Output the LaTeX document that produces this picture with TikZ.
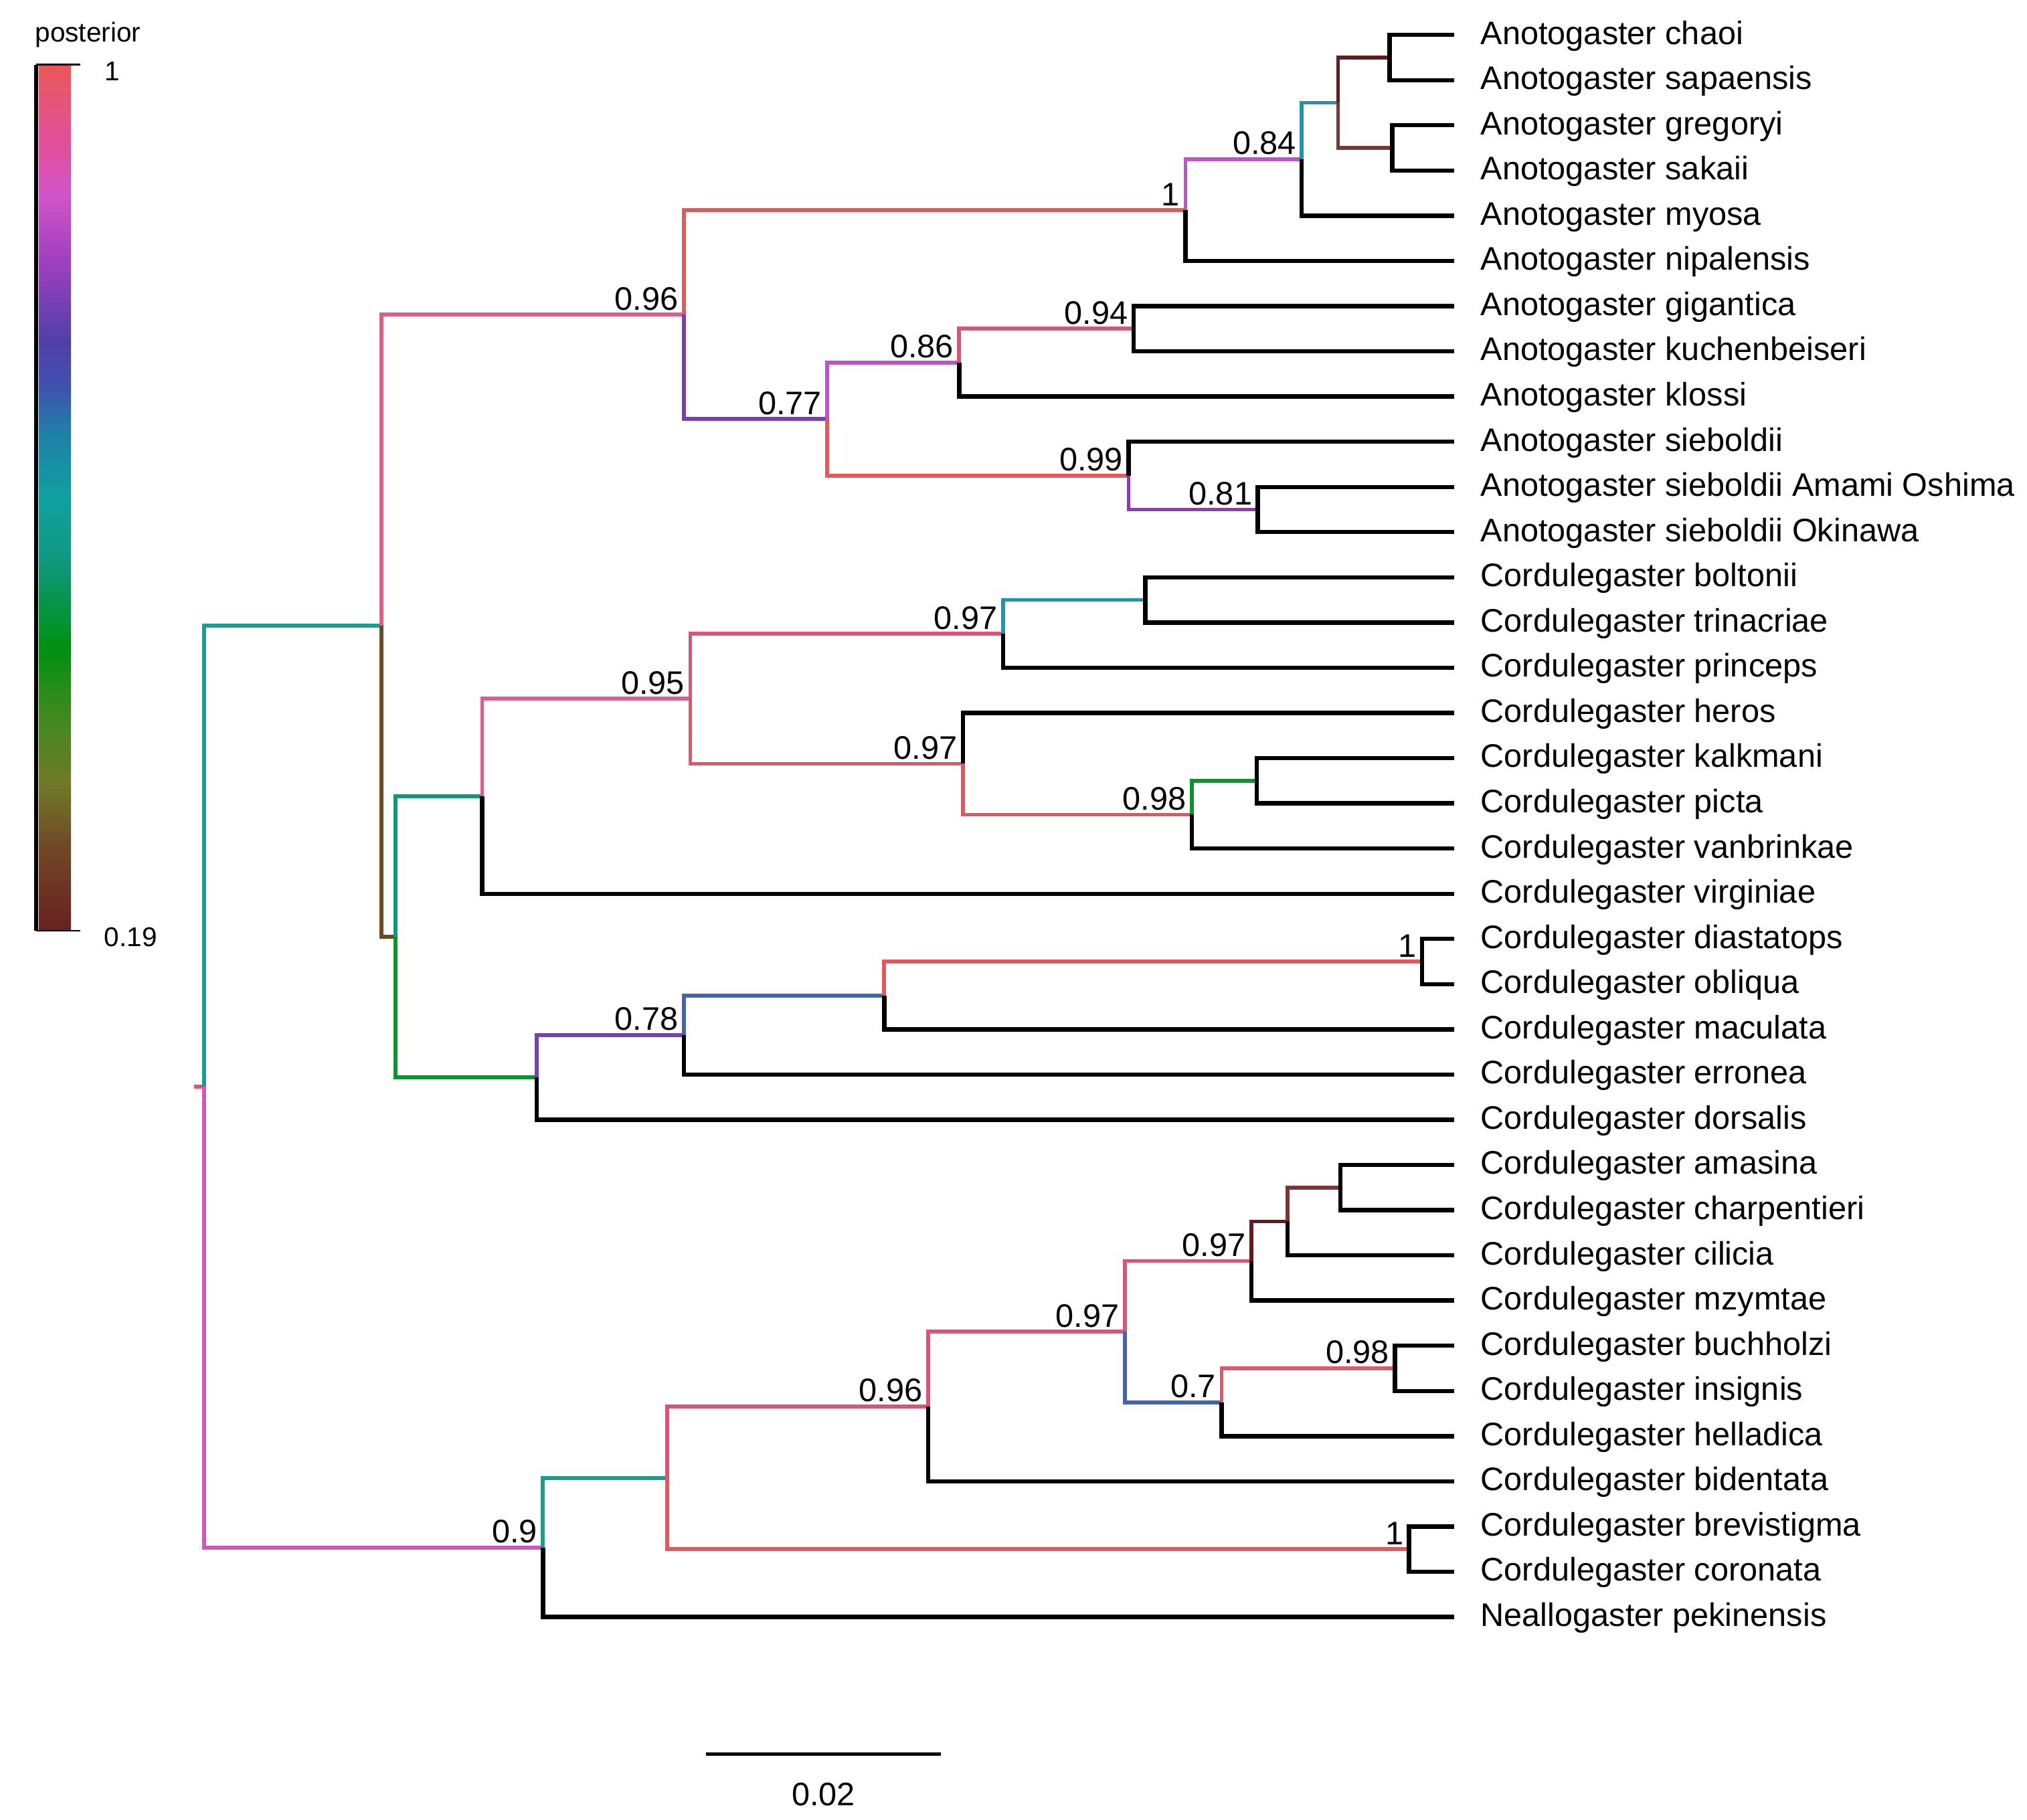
\documentclass[tikz,border=0pt]{standalone}
\usepackage{fontspec}
\setmainfont{Liberation Sans}
\definecolor{cRed}{HTML}{E05A5C}
\definecolor{cRedPk}{HTML}{DC5868}
\definecolor{cPkRed}{HTML}{D85578}
\definecolor{cPink}{HTML}{DA5E8C}
\definecolor{cMag}{HTML}{CC58C0}
\definecolor{cViol}{HTML}{BA55C6}
\definecolor{cPurp}{HTML}{7442AC}
\definecolor{cPurp2}{HTML}{8A3CB0}
\definecolor{cBlue}{HTML}{4660B4}
\definecolor{cTealB}{HTML}{2A90A8}
\definecolor{cTeal}{HTML}{1C9C8C}
\definecolor{cTealG}{HTML}{12977C}
\definecolor{cGreen}{HTML}{10902E}
\definecolor{cBrown}{HTML}{6E4A22}
\definecolor{cDkRed}{HTML}{641A1E}
\definecolor{cBrRed}{HTML}{7A3632}
\begin{document}
\begin{tikzpicture}[x=0.5pt,y=-0.5pt,
  br/.style={line width=1.5pt},
  lf/.style={line width=1.65pt,black},
  taxon/.style={anchor=west,inner xsep=10pt,inner ysep=0pt,text height=0.72em,text depth=0pt,font=\fontsize{12.6}{14}\selectfont},
  pp/.style={anchor=south east,inner sep=0pt,xshift=-2pt,yshift=1.5pt,font=\fontsize{12.6}{14}\selectfont},
  cbtxt/.style={inner sep=0pt,font=\fontsize{10.5}{12}\selectfont},
]
\useasboundingbox (0,0) rectangle (1568,1408);

% ---------- colour bar ----------
\shade[top color={rgb,255:red,232;green,88;blue,88},bottom color={rgb,255:red,224;green,80;blue,160}] (30,50) rectangle (55,117);
\shade[top color={rgb,255:red,224;green,80;blue,160},bottom color={rgb,255:red,208;green,85;blue,200}] (30,117) rectangle (55,150.5);
\shade[top color={rgb,255:red,208;green,85;blue,200},bottom color={rgb,255:red,160;green,64;blue,192}] (30,150.5) rectangle (55,201);
\shade[top color={rgb,255:red,160;green,64;blue,192},bottom color={rgb,255:red,80;green,64;blue,168}] (30,201) rectangle (55,264);
\shade[top color={rgb,255:red,80;green,64;blue,168},bottom color={rgb,255:red,64;green,80;blue,176}] (30,264) rectangle (55,298);
\shade[top color={rgb,255:red,64;green,80;blue,176},bottom color={rgb,255:red,32;green,128;blue,168}] (30,298) rectangle (55,335);
\shade[top color={rgb,255:red,32;green,128;blue,168},bottom color={rgb,255:red,16;green,160;blue,160}] (30,335) rectangle (55,385);
\shade[top color={rgb,255:red,16;green,160;blue,160},bottom color={rgb,255:red,16;green,152;blue,128}] (30,385) rectangle (55,432);
\shade[top color={rgb,255:red,16;green,152;blue,128},bottom color={rgb,255:red,0;green,144;blue,16}] (30,432) rectangle (55,502);
\shade[top color={rgb,255:red,0;green,144;blue,16},bottom color={rgb,255:red,64;green,138;blue,32}] (30,502) rectangle (55,552);
\shade[top color={rgb,255:red,64;green,138;blue,32},bottom color={rgb,255:red,112;green,122;blue,40}] (30,552) rectangle (55,606);
\shade[top color={rgb,255:red,112;green,122;blue,40},bottom color={rgb,255:red,112;green,74;blue,40}] (30,606) rectangle (55,653);
\shade[top color={rgb,255:red,112;green,74;blue,40},bottom color={rgb,255:red,106;green,32;blue,32}] (30,653) rectangle (55,720);
\coordinate (cbTop) at (28,50);
\coordinate (cbBot) at (28,720);
\coordinate (cbTopR) at (62,50);
\coordinate (cbBotR) at (62,720);
\draw[line width=1.4pt,black] (cbTop) -- (cbBot);
\draw[line width=0.7pt,black] (cbTop) -- (cbTopR);
\draw[line width=0.7pt,black] (cbBot) -- (cbBotR);
\node[cbtxt] (cbTitle) at (68,27) {posterior};
\node[cbtxt] (cbMax) at (87,55) {1};
\node[cbtxt] (cbMin) at (101,725) {0.19};

% ---------- scale bar ----------
\coordinate (sbL) at (546,1357);
\coordinate (sbR) at (728,1357);
\draw[line width=1.4pt,black] (sbL) -- (sbR);
\node[inner sep=0pt,font=\fontsize{12.6}{14}\selectfont] (sbTxt) at (637,1388) {0.02};

% ---------- taxa ----------
\node[taxon] (n1)  at (1125,27)      {Anotogaster chaoi};
\node[taxon] (n2)  at (1125,61.97)   {Anotogaster sapaensis};
\node[taxon] (n3)  at (1125,96.94)   {Anotogaster gregoryi};
\node[taxon] (n4)  at (1125,131.91)  {Anotogaster sakaii};
\node[taxon] (n5)  at (1125,166.88)  {Anotogaster myosa};
\node[taxon] (n6)  at (1125,201.85)  {Anotogaster nipalensis};
\node[taxon] (n7)  at (1125,236.82)  {Anotogaster gigantica};
\node[taxon] (n8)  at (1125,271.79)  {Anotogaster kuchenbeiseri};
\node[taxon] (n9)  at (1125,306.76)  {Anotogaster klossi};
\node[taxon] (n10) at (1125,341.73)  {Anotogaster sieboldii};
\node[taxon] (n11) at (1125,376.7)   {Anotogaster sieboldii Amami Oshima};
\node[taxon] (n12) at (1125,411.67)  {Anotogaster sieboldii Okinawa};
\node[taxon] (n13) at (1125,446.64)  {Cordulegaster boltonii};
\node[taxon] (n14) at (1125,481.61)  {Cordulegaster trinacriae};
\node[taxon] (n15) at (1125,516.58)  {Cordulegaster princeps};
\node[taxon] (n16) at (1125,551.55)  {Cordulegaster heros};
\node[taxon] (n17) at (1125,586.52)  {Cordulegaster kalkmani};
\node[taxon] (n18) at (1125,621.49)  {Cordulegaster picta};
\node[taxon] (n19) at (1125,656.46)  {Cordulegaster vanbrinkae};
\node[taxon] (n20) at (1125,691.43)  {Cordulegaster virginiae};
\node[taxon] (n21) at (1125,726.4)   {Cordulegaster diastatops};
\node[taxon] (n22) at (1125,761.37)  {Cordulegaster obliqua};
\node[taxon] (n23) at (1125,796.34)  {Cordulegaster maculata};
\node[taxon] (n24) at (1125,831.31)  {Cordulegaster erronea};
\node[taxon] (n25) at (1125,866.28)  {Cordulegaster dorsalis};
\node[taxon] (n26) at (1125,901.25)  {Cordulegaster amasina};
\node[taxon] (n27) at (1125,936.22)  {Cordulegaster charpentieri};
\node[taxon] (n28) at (1125,971.19)  {Cordulegaster cilicia};
\node[taxon] (n29) at (1125,1006.16) {Cordulegaster mzymtae};
\node[taxon] (n30) at (1125,1041.13) {Cordulegaster buchholzi};
\node[taxon] (n31) at (1125,1076.1)  {Cordulegaster insignis};
\node[taxon] (n32) at (1125,1111.07) {Cordulegaster helladica};
\node[taxon] (n33) at (1125,1146.04) {Cordulegaster bidentata};
\node[taxon] (n34) at (1125,1181.01) {Cordulegaster brevistigma};
\node[taxon] (n35) at (1125,1215.98) {Cordulegaster coronata};
\node[taxon] (n36) at (1125,1250.95) {Neallogaster pekinensis};

% ---------- internal nodes ----------
\coordinate (rs)   at (150,840.61);
\coordinate (root) at (158,840.61);
\coordinate (A)  at (295,484.08);
\coordinate (B)  at (529,243.38);
\coordinate (C)  at (917,162.51);
\coordinate (D)  at (1007,123.17);
\coordinate (E)  at (1035,79.46);
\coordinate (F)  at (1075,44.49);
\coordinate (G)  at (1077,114.43);
\coordinate (H)  at (640,324.25);
\coordinate (I)  at (742,280.53);
\coordinate (J)  at (877,254.31);
\coordinate (K)  at (873,367.96);
\coordinate (L)  at (973,394.19);
\coordinate (M)  at (306,724.77);
\coordinate (N)  at (373,616.03);
\coordinate (O)  at (534,540.63);
\coordinate (P)  at (776,490.36);
\coordinate (Q)  at (886,464.13);
\coordinate (R)  at (745,590.9);
\coordinate (S)  at (922,630.24);
\coordinate (T)  at (972,604.01);
\coordinate (U)  at (415,833.5);
\coordinate (V)  at (529,800.72);
\coordinate (W)  at (684,770.12);
\coordinate (X)  at (1100,743.89);
\coordinate (Y)  at (420,1197.14);
\coordinate (Z)  at (516,1143.32);
\coordinate (AA) at (718,1088.13);
\coordinate (AB) at (870,1030.21);
\coordinate (AC) at (968,975.57);
\coordinate (AD) at (996,944.97);
\coordinate (AE) at (1037,918.74);
\coordinate (AF) at (945,1084.85);
\coordinate (AG) at (1079,1058.62);
\coordinate (AH) at (1090,1198.5);

% ---------- coloured branches ----------
\draw[br,cRed] (rs) -- (root);
\draw[br,cTeal] (root) |- (A);
\draw[br,cPink] (A) |- (B);
\draw[br,cRed] (B) |- (C);
\draw[br,cViol] (C) |- (D);
\draw[br,cTealB] (D) |- (E);
\draw[br,cDkRed] (E) |- (F);
\draw[br,cBrRed] (E) |- (G);
\draw[br,cPurp] (B) |- (H);
\draw[br,cViol] (H) |- (I);
\draw[br,cPkRed] (I) |- (J);
\draw[br,cRed] (H) |- (K);
\draw[br,cPurp2] (K) |- (L);
\draw[br,cBrown] (A) |- (M);
\draw[br,cTealG] (M) |- (N);
\draw[br,cPink] (N) |- (O);
\draw[br,cPkRed] (O) |- (P);
\draw[br,cTealB] (P) |- (Q);
\draw[br,cRedPk] (O) |- (R);
\draw[br,cRedPk] (R) |- (S);
\draw[br,cGreen] (S) |- (T);
\draw[br,cGreen] (M) |- (U);
\draw[br,cPurp] (U) |- (V);
\draw[br,cBlue] (V) |- (W);
\draw[br,cRed] (W) |- (X);
\draw[br,cMag] (root) |- (Y);
\draw[br,cTeal] (Y) |- (Z);
\draw[br,cPkRed] (Z) |- (AA);
\draw[br,cRed] (Z) |- (AH);
\draw[br,cPkRed] (AA) |- (AB);
\draw[br,cPkRed] (AB) |- (AC);
\draw[br,cDkRed] (AC) |- (AD);
\draw[br,cBrRed] (AD) |- (AE);
\draw[br,cBlue] (AB) |- (AF);
\draw[br,cRedPk] (AF) |- (AG);

% ---------- black branches ----------
\draw[lf] (F) |- (n1.west);
\draw[lf] (F) |- (n2.west);
\draw[lf] (G) |- (n3.west);
\draw[lf] (G) |- (n4.west);
\draw[lf] (D) |- (n5.west);
\draw[lf] (C) |- (n6.west);
\draw[lf] (J) |- (n7.west);
\draw[lf] (J) |- (n8.west);
\draw[lf] (I) |- (n9.west);
\draw[lf] (K) |- (n10.west);
\draw[lf] (L) |- (n11.west);
\draw[lf] (L) |- (n12.west);
\draw[lf] (Q) |- (n13.west);
\draw[lf] (Q) |- (n14.west);
\draw[lf] (P) |- (n15.west);
\draw[lf] (R) |- (n16.west);
\draw[lf] (T) |- (n17.west);
\draw[lf] (T) |- (n18.west);
\draw[lf] (S) |- (n19.west);
\draw[lf] (N) |- (n20.west);
\draw[lf] (X) |- (n21.west);
\draw[lf] (X) |- (n22.west);
\draw[lf] (W) |- (n23.west);
\draw[lf] (V) |- (n24.west);
\draw[lf] (U) |- (n25.west);
\draw[lf] (AE) |- (n26.west);
\draw[lf] (AE) |- (n27.west);
\draw[lf] (AD) |- (n28.west);
\draw[lf] (AC) |- (n29.west);
\draw[lf] (AG) |- (n30.west);
\draw[lf] (AG) |- (n31.west);
\draw[lf] (AF) |- (n32.west);
\draw[lf] (AA) |- (n33.west);
\draw[lf] (AH) |- (n34.west);
\draw[lf] (AH) |- (n35.west);
\draw[lf] (Y) |- (n36.west);

% ---------- posterior values ----------
\node[pp] (pB)  at (B)  {0.96};
\node[pp] (pC)  at (C)  {1};
\node[pp] (pD)  at (D)  {0.84};
\node[pp] (pH)  at (H)  {0.77};
\node[pp] (pI)  at (I)  {0.86};
\node[pp] (pJ)  at (J)  {0.94};
\node[pp] (pK)  at (K)  {0.99};
\node[pp] (pL)  at (L)  {0.81};
\node[pp] (pO)  at (O)  {0.95};
\node[pp] (pP)  at (P)  {0.97};
\node[pp] (pR)  at (R)  {0.97};
\node[pp] (pS)  at (S)  {0.98};
\node[pp] (pV)  at (V)  {0.78};
\node[pp] (pX)  at (X)  {1};
\node[pp] (pY)  at (Y)  {0.9};
\node[pp] (pAA) at (AA) {0.96};
\node[pp] (pAB) at (AB) {0.97};
\node[pp] (pAC) at (AC) {0.97};
\node[pp] (pAF) at (AF) {0.7};
\node[pp] (pAG) at (AG) {0.98};
\node[pp] (pAH) at (AH) {1};
\end{tikzpicture}
\end{document}
